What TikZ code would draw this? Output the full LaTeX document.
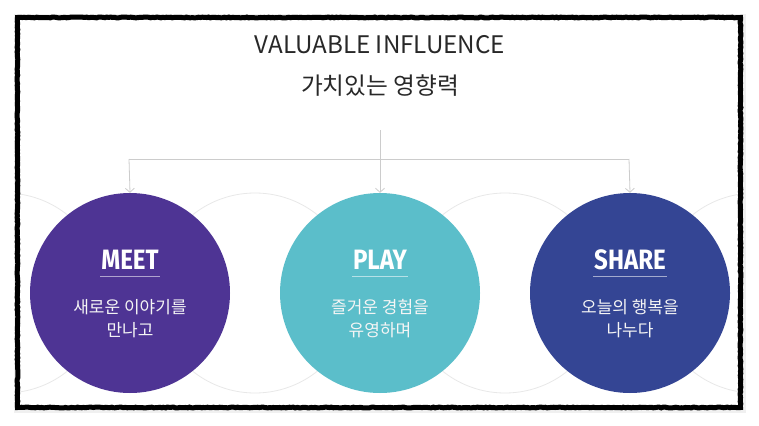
\documentclass[tikz,border=0pt]{standalone}
\usepackage{fontspec}
\setmainfont{Noto Sans CJK KR}
\newfontfamily\headfont{Fira Sans}[FakeStretch=0.86]
\usetikzlibrary{arrows.meta,decorations.pathmorphing}
\definecolor{meetc}{RGB}{78,52,148}
\definecolor{playc}{RGB}{91,190,202}
\definecolor{sharec}{RGB}{52,69,148}
\definecolor{ghostc}{RGB}{232,232,232}
\definecolor{connc}{RGB}{204,204,204}
\definecolor{titlec}{RGB}{40,40,40}
\tikzset{
  bigcirc/.style={circle, minimum size=200pt, inner sep=0pt, draw=none},
  ghost/.style={circle, minimum size=200pt, inner sep=0pt, draw=ghostc, line width=0.8pt},
  conn/.style={draw=connc, line width=0.8pt},
  tip/.style={-{Straight Barb[length=4pt,width=9pt,line width=0.8pt]}},
  headtxt/.style={text=white, font=\headfont\bfseries\fontsize{28}{28}\selectfont, inner sep=0pt},
  subtxt/.style={text=white!92!gray, font=\fontsize{17}{23}\selectfont, align=center, inner sep=0pt},
  uline/.style={draw=white, draw opacity=0.55, line width=0.7pt},
  frame/.style={draw=black, line width=5pt, decorate, decoration={random steps, segment length=2pt, amplitude=0.4pt}}
}
\begin{document}
\begin{tikzpicture}[x=1pt,y=-1pt]
\useasboundingbox (0,0) rectangle (759,425);
\fill[white] (0,0) rectangle (759,425);
% shadow
\fill[black!6] (14,14) rectangle (746,413);
\fill[white] (20,20) rectangle (738,405);
% titles
\node[text=titlec, font=\fontsize{24.2}{24}\selectfont, inner sep=0pt] (title) at (380,45) {VALUABLE INFLUENCE};
\node[text=titlec, font=\fontsize{23.7}{24}\selectfont, inner sep=0pt] (subtitle) at (380,86) {가치있는 영향력};
% ghost circles
\begin{scope}
\clip (20,20) rectangle (738,405);
\node[ghost] (g0) at (5,293) {};
\node[ghost] (g1) at (255,293) {};
\node[ghost] (g2) at (505,293) {};
\node[ghost] (g3) at (755,293) {};
\end{scope}
% main circles
\node[bigcirc, fill=meetc] (meet) at (130,293) {};
\node[bigcirc, fill=playc] (play) at (380,293) {};
\node[bigcirc, fill=sharec] (share) at (630,293) {};
% headings
\node[headtxt] (meeth) at (130,260) {MEET};
\node[headtxt] (playh) at (380,260) {PLAY};
\node[headtxt] (shareh) at (630,260) {SHARE};
\draw[uline] ([xshift=-1pt,yshift=-6pt]meeth.south west) -- ([xshift=1pt,yshift=-6pt]meeth.south east);
\draw[uline] ([xshift=-1pt,yshift=-6pt]playh.south west) -- ([xshift=1pt,yshift=-6pt]playh.south east);
\draw[uline] ([xshift=-1pt,yshift=-6pt]shareh.south west) -- ([xshift=1pt,yshift=-6pt]shareh.south east);
% descriptions
\node[subtxt] (meetd) at (130,318.5) {새로운 이야기를\\만나고};
\node[subtxt] (playd) at (380,318.5) {즐거운 경험을\\유영하며};
\node[subtxt] (shared) at (630,318.5) {오늘의 행복을\\나누다};
% connectors
\coordinate (top) at (380,130);
\coordinate (hl) at (129,159);
\coordinate (hr) at (629,159);
\draw[conn, tip] (top) -- (play.north);
\draw[conn] (hl) -- (hr);
\draw[conn, tip] (hl) -- (meet.north);
\draw[conn, tip] (hr) -- (share.north);
% frame
\draw[frame] (17.5,17.5) rectangle (740.5,407.5);
\end{tikzpicture}
\end{document}
